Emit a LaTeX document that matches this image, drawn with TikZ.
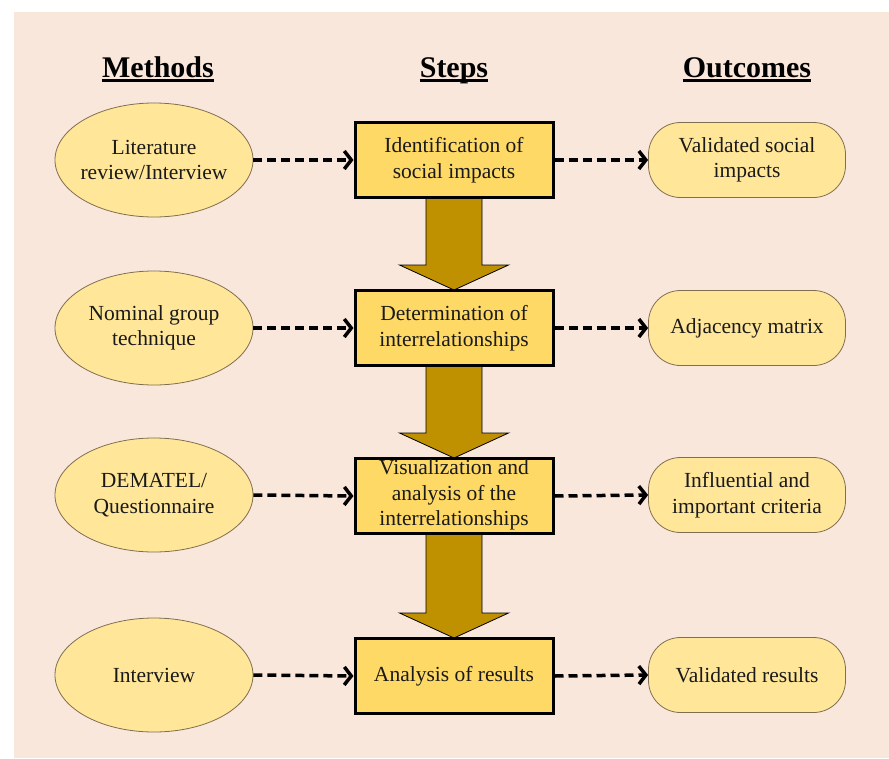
\documentclass[tikz,border=0pt]{standalone}
\usepackage{fontspec}
\setmainfont{Liberation Serif}
\usetikzlibrary{shapes.geometric,arrows.meta,calc}
\definecolor{bgc}{HTML}{FAE7DC}
\definecolor{ellc}{HTML}{FFE699}
\definecolor{boxc}{HTML}{FFD966}
\definecolor{arrc}{HTML}{BF9000}
\definecolor{edgec}{HTML}{7F6F4F}
\definecolor{txtc}{HTML}{1A1A1A}
\begin{document}
\begin{tikzpicture}[x=1pt,y=-1pt,
  hdr/.style={font=\rmfamily\fontsize{30}{34}\selectfont\bfseries, text=black, inner sep=0pt, anchor=base},
  uline/.style={line width=2.5pt, black},
  meth/.style={ellipse, draw=edgec, line width=0.8pt, fill=ellc, minimum width=198pt, minimum height=114pt, inner sep=0pt},
  stepbox/.style={rectangle, draw=black, line width=3pt, fill=boxc, minimum width=198pt, minimum height=75pt, inner sep=0pt},
  outbox/.style={rectangle, rounded corners=32pt, draw=edgec, line width=0.8pt, fill=ellc, minimum width=197pt, minimum height=75pt, inner sep=0pt},
  txt/.style={align=center, font=\rmfamily\fontsize{21.5}{25.5}\selectfont, text=txtc, inner sep=0pt},
  dasharr/.style={line width=3.5pt, dash pattern=on 9pt off 5pt, -{Straight Barb[length=7pt,width=18pt]}},
  bigarr/.style={fill=arrc, draw=black, line width=0.8pt, line join=miter}
]
\fill[white] (0,0) rectangle (889,758);
\fill[bgc] (14,12) rectangle (889,758);
\useasboundingbox (0,0) rectangle (889,758);

% headers
\node[hdr] (hm) at (158,77) {Methods};
\node[hdr] (hs) at (454,77) {Steps};
\node[hdr] (ho) at (747,77) {Outcomes};
\foreach \h in {hm,hs,ho}{
  \draw[uline] ($(\h.base west)+(0,3.5)$) -- ($(\h.base east)+(0,3.5)$);
}

% methods
\node[meth] (m1) at (154,160) {};
\node[meth] (m2) at (154,328) {};
\node[meth] (m3) at (154,495) {};
\node[meth] (m4) at (154,675) {};
\node[txt] (m1t) at (m1) {Literature\\review/Interview};
\node[txt] (m2t) at (m2) {Nominal group\\technique};
\node[txt] (m3t) at (m3) {DEMATEL/\\Questionnaire};
\node[txt] (m4t) at (m4) {Interview};

% step box positions
\path (454,160) coordinate (c1) (454,328) coordinate (c2) (454,496) coordinate (c3) (454,676) coordinate (c4);
\node[stepbox, draw=none, fill=none] (b1) at (c1) {};
\node[stepbox, draw=none, fill=none] (b2) at (c2) {};
\node[stepbox, draw=none, fill=none] (b3) at (c3) {};
\node[stepbox, draw=none, fill=none] (b4) at (c4) {};

% big block arrows
\foreach \a/\b in {b1/b2,b2/b3,b3/b4}{
  \draw[bigarr] ($(\a.south)+(-28,-1)$) -- ($(\b.north)+(-28,-24)$) -- ($(\b.north)+(-54.5,-24)$)
     -- ($(\b.north)+(0,1)$) -- ($(\b.north)+(54.5,-24)$) -- ($(\b.north)+(28,-24)$)
     -- ($(\a.south)+(28,-1)$) -- cycle;
}

\node[stepbox] (s1) at (c1) {};
\node[stepbox] (s2) at (c2) {};
\node[stepbox] (s3) at (c3) {};
\node[stepbox] (s4) at (c4) {};
\node[txt] (s1t) at (s1) {Identification of\\social impacts};
\node[txt] (s2t) at (s2) {Determination of\\interrelationships};
\node[txt] (s3t) at ($(s3)+(0,-1)$) {Visualization and\\analysis of the\\interrelationships};
\node[txt] (s4t) at (s4) {Analysis of results};

% outcomes
\node[outbox] (o1) at (747,160) {};
\node[outbox] (o2) at (747,328) {};
\node[outbox] (o3) at (747,495) {};
\node[outbox] (o4) at (747,675) {};
\node[txt] (o1t) at (o1) {Validated social\\impacts};
\node[txt] (o2t) at (o2) {Adjacency matrix};
\node[txt] (o3t) at (o3) {Influential and\\important criteria};
\node[txt] (o4t) at (o4) {Validated results};

% dashed connectors
\foreach \i in {1,2,3,4}{
  \draw[dasharr] (m\i.east) -- (s\i.west);
  \draw[dasharr] (s\i.east) -- (o\i.west);
}
\end{tikzpicture}
\end{document}
